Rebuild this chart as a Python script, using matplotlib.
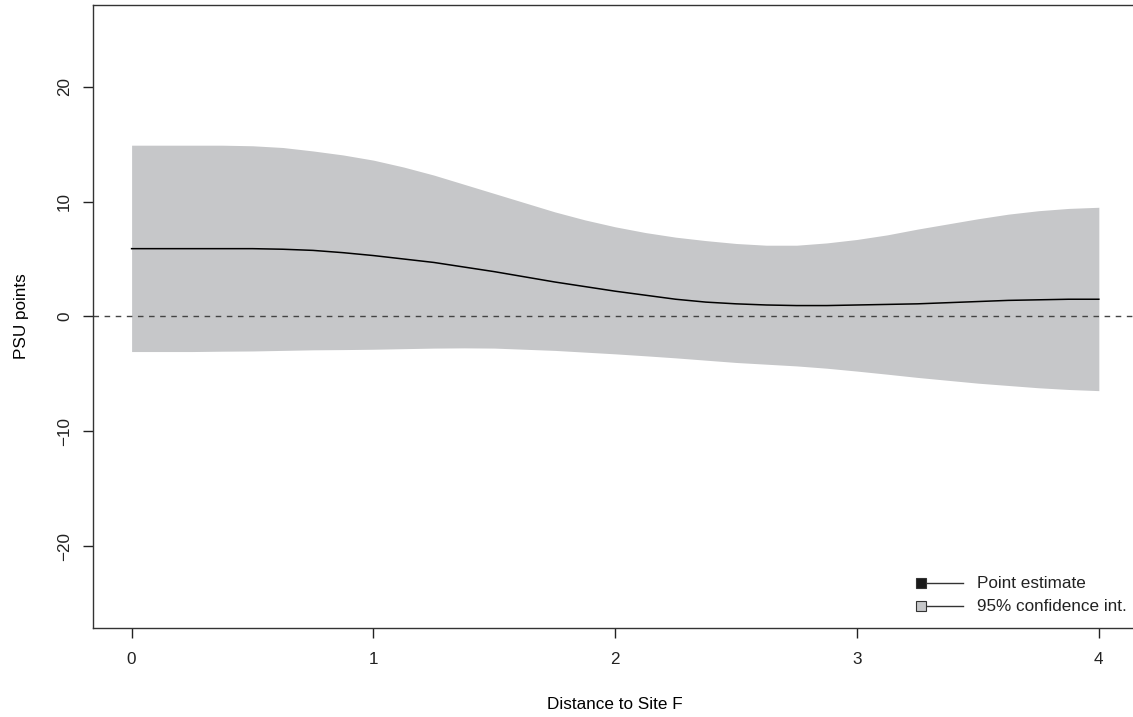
import numpy as np
import matplotlib
matplotlib.use("Agg")
import matplotlib.pyplot as plt

# values
distance = [0, 0.125, 0.25, 0.375, 0.5, 0.625, 0.75, 0.875, 1, 1.125, 1.25, 1.375, 1.5,
            1.625, 1.75, 1.875, 2, 2.125, 2.25, 2.375, 2.5, 2.625, 2.75, 2.875, 3, 3.125,
            3.25, 3.375, 3.5, 3.625, 3.75, 3.875, 4]
estimate = [5.9, 5.9, 5.9, 5.9, 5.9, 5.85, 5.75, 5.55, 5.3, 5.0, 4.7, 4.3, 3.9,
            3.45, 3.0, 2.6, 2.2, 1.85, 1.5, 1.25, 1.1, 1.0, 0.95, 0.95, 1.0, 1.05,
            1.1, 1.2, 1.3, 1.4, 1.45, 1.5, 1.5]
ci_upper = [14.9, 14.9, 14.9, 14.9, 14.85, 14.7, 14.4, 14.05, 13.6, 13.0, 12.3, 11.5, 10.7,
            9.9, 9.1, 8.4, 7.8, 7.3, 6.9, 6.6, 6.35, 6.2, 6.2, 6.4, 6.7, 7.1,
            7.6, 8.05, 8.5, 8.9, 9.2, 9.4, 9.5]
ci_lower = [-3.05, -3.05, -3.05, -3.02, -3.0, -2.95, -2.9, -2.88, -2.85, -2.8, -2.75, -2.73,
            -2.75, -2.85, -2.95, -3.1, -3.25, -3.42, -3.6, -3.8, -4.0, -4.15, -4.3, -4.5,
            -4.75, -5.02, -5.3, -5.55, -5.8, -6.0, -6.2, -6.35, -6.45]
xticks = [0, 1, 2, 3, 4]
yticks = [-20, -10, 0, 10, 20]

FILL = "#C6C7C9"
FS = 12.3
plt.rcParams["font.family"] = ["Liberation Sans", "DejaVu Sans"]

fig = plt.figure(figsize=(11.33, 7.17), dpi=100)
ax = fig.add_axes([0.082, 0.1241, 0.922, 0.869])

ax.fill_between(distance, ci_lower, ci_upper, color=FILL, lw=0)
ax.plot(distance, estimate, color="black", lw=1.1)
ax.axhline(0, color="#444444", lw=1.0, ls=(0, (4, 4)))

ax.set_xlim(-0.16, 4.16)
ax.set_ylim(-27.1, 27.1)
ax.set_xticks(xticks)
ax.set_yticks(yticks)
ax.set_xticklabels([str(v) for v in xticks])
ax.set_yticklabels(["\u221220", "\u221210", "0", "10", "20"], rotation=90, va="center")
ax.tick_params(direction="out", length=7, width=1, labelsize=FS, colors="#222222")
ax.tick_params(axis="x", pad=10)
ax.tick_params(axis="y", pad=8)
for s in ["left", "top", "bottom", "right"]:
    ax.spines[s].set_color("#333333")
    ax.spines[s].set_linewidth(1.0)

ax.set_xlabel("Distance to Site F", fontsize=FS, labelpad=22)
ax.set_ylabel("PSU points", fontsize=FS, labelpad=20)

# legend drawn by hand, R-style
for yf, col, lab in [(0.0722, "#1a1a1a", "Point estimate"),
                     (0.0353, FILL, "95% confidence int.")]:
    ax.plot([0.797, 0.833], [yf, yf], color="#333333", lw=1.0, transform=ax.transAxes,
            clip_on=False)
    ax.plot([0.793], [yf], marker="s", ms=7, mfc=col, mec="#333333", mew=0.8, ls="none",
            transform=ax.transAxes, clip_on=False)
    ax.text(0.846, yf, lab, transform=ax.transAxes, va="center", ha="left", fontsize=FS,
            color="#222222")

fig.savefig("out.png", dpi=100)
